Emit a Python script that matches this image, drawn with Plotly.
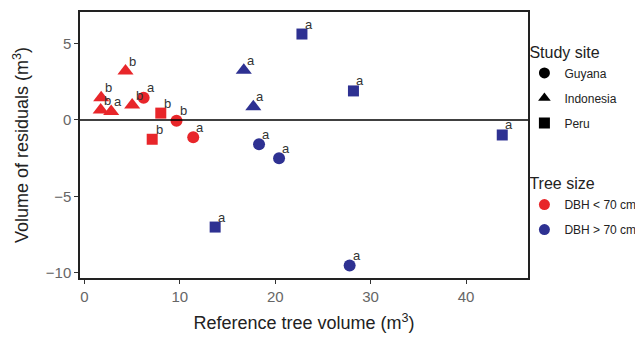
import plotly.graph_objects as go

# Data
site = ["Indonesia", "Indonesia", "Indonesia", "Indonesia", "Indonesia",
        "Guyana", "Guyana", "Guyana", "Peru", "Peru",
        "Guyana", "Guyana", "Guyana", "Indonesia", "Indonesia",
        "Peru", "Peru", "Peru", "Peru"]
tree_size = ["small"] * 10 + ["large"] * 9
ref_volume = [4.3, 1.75, 1.7, 2.8, 5.0,
              6.2, 9.65, 11.4, 8.0, 7.1,
              18.3, 20.4, 27.8, 16.7, 17.7,
              22.8, 28.2, 13.7, 43.8]
residual = [3.2, 1.45, 0.65, 0.55, 0.98,
            1.45, -0.05, -1.13, 0.45, -1.26,
            -1.59, -2.5, -9.52, 3.25, 0.87,
            5.62, 1.9, -7.0, -0.98]
letters = ["b", "b", "b", "a", "b",
           "a", "b", "a", "b", "b",
           "a", "a", "a", "a", "a",
           "a", "a", "a", "a"]

sites = ["Guyana", "Indonesia", "Peru"]
symbols = {"Guyana": "circle", "Indonesia": "triangle-up", "Peru": "square"}
sizes_px = {"Guyana": 12, "Indonesia": 14, "Peru": 11}
size_names = {"small": "DBH < 70 cm", "large": "DBH > 70 cm"}
colors = {"small": "#E8262A", "large": "#2E3192"}

fig = go.Figure()

for ts in ["small", "large"]:
    for s in sites:
        idx = [i for i in range(len(site)) if site[i] == s and tree_size[i] == ts]
        if not idx:
            continue
        fig.add_trace(go.Scatter(
            x=[ref_volume[i] for i in idx],
            y=[residual[i] for i in idx],
            mode="markers",
            marker=dict(symbol=symbols[s], size=sizes_px[s], color=colors[ts],
                        line=dict(width=0)),
            showlegend=False, hoverinfo="skip"))

for i in range(len(letters)):
    fig.add_annotation(x=ref_volume[i], y=residual[i], text=letters[i],
                       showarrow=False, xshift=7, yshift=10,
                       font=dict(size=13, color="#333333", family="Liberation Sans"))

# Legend: Study site
for k, s in enumerate(sites):
    fig.add_trace(go.Scatter(
        x=[None], y=[None], mode="markers", name=s,
        marker=dict(symbol=symbols[s], size=11, color="black"),
        legend="legend", legendgroup="site" + s,
        legendgrouptitle_text="Study site" if k == 0 else None))

# Legend: Tree size
for k, ts in enumerate(["small", "large"]):
    fig.add_trace(go.Scatter(
        x=[None], y=[None], mode="markers", name=size_names[ts],
        marker=dict(symbol="circle", size=11, color=colors[ts]),
        legend="legend2", legendgroup="size" + ts,
        legendgrouptitle_text="Tree size" if k == 0 else None))

fig.add_hline(y=0, line=dict(color="black", width=1.5))

axis_common = dict(
    showline=True, mirror=True, linecolor="#222222", linewidth=1.5,
    ticks="outside", ticklen=4, tickcolor="#333333", tickwidth=1,
    showgrid=False, zeroline=False,
    tickfont=dict(size=15, color="#666666", family="Liberation Sans"),
)

fig.update_xaxes(range=[-0.47, 46.5], tickvals=[0, 10, 20, 30, 40],
                 title=dict(text="Reference tree volume (m<sup>3</sup>)",
                            font=dict(size=18, color="#222222", family="Liberation Sans"),
                            standoff=13),
                 **axis_common)
fig.update_yaxes(range=[-10.33, 7.06], tickvals=[-10, -5, 0, 5],
                 title=dict(text="Volume of residuals (m<sup>3</sup>)",
                            font=dict(size=18, color="#222222", family="Liberation Sans"),
                            standoff=12),
                 **axis_common)

legend_common = dict(
    bgcolor="rgba(0,0,0,0)", xanchor="left", yanchor="top",
    font=dict(size=12, color="#222222", family="Liberation Sans"),
    grouptitlefont=dict(size=16, color="#222222", family="Liberation Sans"),
    tracegroupgap=6, itemwidth=30,
)

# The page body adds an 8px margin, so the figure is 8px smaller and offset.
fig.update_layout(
    width=635, height=335,
    margin=dict(l=72, r=115, t=4, b=65, autoexpand=False),
    plot_bgcolor="white", paper_bgcolor="white",
    font=dict(family="Liberation Sans"),
    legend=dict(x=0.992, y=0.915, **legend_common),
    legend2=dict(x=0.992, y=0.42, **legend_common),
)

fig.write_html("out.html")
